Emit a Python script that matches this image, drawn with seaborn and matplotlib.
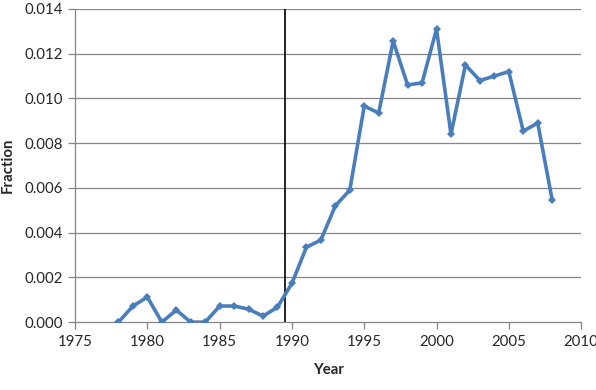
import numpy as np
import pandas as pd
import matplotlib
matplotlib.use('Agg')
import matplotlib.pyplot as plt
import seaborn as sns

# data
years = list(range(1978, 2009))
fraction = [0.0, 0.00072, 0.00112, 0.0, 0.00054, 0.0, 0.0, 0.00072, 0.00072, 0.00058,
            0.00027, 0.00067, 0.00174, 0.00335, 0.00367, 0.0052, 0.0059, 0.00966, 0.00935,
            0.01257, 0.0106, 0.0107, 0.0131, 0.0084, 0.0115, 0.0108, 0.0110, 0.0112,
            0.00854, 0.0089, 0.00546]
cutoff_year = 1989.5

df = pd.DataFrame({'Year': years, 'Fraction': fraction})

sns.set_style('white')
plt.rcParams['font.family'] = ['Lato', 'DejaVu Sans']

fig = plt.figure(figsize=(5.96, 3.90), dpi=100)
ax = fig.add_axes([0.126, 0.174, 0.849, 0.803])

grid_col = '#868686'
for yv in np.arange(0.002, 0.0141, 0.002):
    ax.axhline(yv, color=grid_col, lw=0.9, zorder=0)

sns.lineplot(data=df, x='Year', y='Fraction', ax=ax, color='#4A7EBB', lw=2.6,
             marker='D', markersize=4, markeredgewidth=0, zorder=3)
ax.axvline(cutoff_year, color='black', lw=1.2, zorder=2)

ax.set_xlim(1975, 2010)
ax.set_ylim(0, 0.014)
ax.set_xticks(range(1975, 2011, 5))
ax.set_yticks(np.arange(0, 0.0141, 0.002))
ax.set_yticklabels([f'{v:.3f}' for v in np.arange(0, 0.0141, 0.002)])

for s in ['top', 'right']:
    ax.spines[s].set_visible(False)
for s in ['left', 'bottom']:
    ax.spines[s].set_color(grid_col)
    ax.spines[s].set_linewidth(0.9)

ax.tick_params(axis='both', which='both', direction='out', length=5, width=0.9,
               color=grid_col, labelsize=10.8, pad=4, bottom=True, left=True)
ax.set_xlabel('Year', fontsize=10.8, fontweight='bold', labelpad=10)
ax.set_ylabel('Fraction', fontsize=10.8, fontweight='bold', labelpad=7)

fig.savefig('out.png', dpi=100)
